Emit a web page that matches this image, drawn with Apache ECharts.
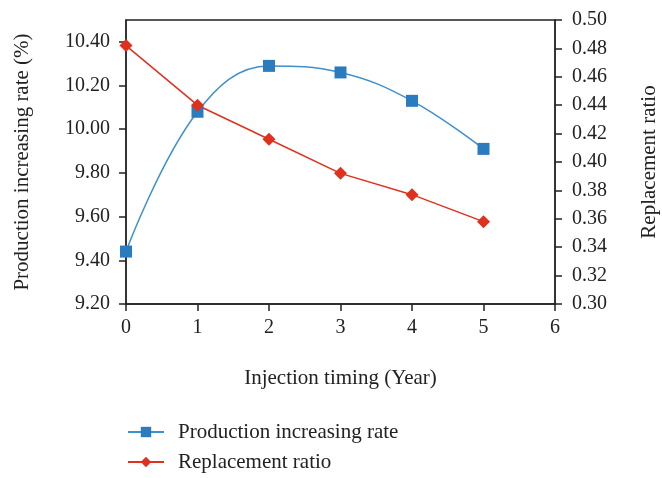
<!DOCTYPE html>
<html>
<head>
<meta charset="utf-8">
<script src="https://cdn.jsdelivr.net/npm/echarts@6/dist/echarts.min.js"></script>
<style>html,body{margin:0;padding:0;background:#fff}#c{width:662px;height:478px}</style>
</head>
<body>
<div id="c"></div>
<script>
const years = [0, 1, 2, 3, 4, 5];
const productionRate = [9.44, 10.08, 10.29, 10.26, 10.13, 9.91];
const replacementRatio = [0.482, 0.440, 0.416, 0.392, 0.377, 0.358];
const leftTicks = [9.2, 9.4, 9.6, 9.8, 10.0, 10.2, 10.4];
const rightTicks = [0.30, 0.32, 0.34, 0.36, 0.38, 0.40, 0.42, 0.44, 0.46, 0.48, 0.50];

const FONT = '"Liberation Serif", "DejaVu Serif", serif';
const tickTxt = { fontFamily: FONT, fontSize: 20, color: '#222' };
const nameTxt = { fontFamily: FONT, fontSize: 21, color: '#222' };
const axisLine = { show: true, lineStyle: { color: '#222', width: 1.5 } };
const tickStyle = { color: '#222', width: 1.5 };

const chart = echarts.init(document.getElementById('c'), null, { renderer: 'canvas' });
chart.setOption({
  animation: false,
  backgroundColor: '#fff',
  grid: { left: 126, right: 107, top: 20, bottom: 174, outerBoundsMode: 'none', containLabel: false,
          show: true, borderColor: '#222', borderWidth: 1.3, backgroundColor: 'transparent' },
  legend: {
    orient: 'vertical', left: 127, top: 420, height: 58, padding: 0, itemGap: 6, itemWidth: 36, itemHeight: 13,
    textStyle: { ...nameTxt, lineHeight: 24, padding: [0, 0, 0, 9] },
    data: ['Production increasing rate', 'Replacement ratio']
  },
  xAxis: {
    type: 'value', min: 0, max: 6, interval: 1,
    name: 'Injection timing (Year)', nameLocation: 'middle', nameGap: 64,
    nameTextStyle: nameTxt,
    axisLine, axisTick: { show: true, inside: false, length: 7, lineStyle: tickStyle },
    axisLabel: { ...tickTxt, margin: 14 },
    splitLine: { show: false }
  },
  yAxis: [
    {
      type: 'value', min: 9.2, max: 10.5, position: 'left',
      name: 'Production increasing rate (%)', nameLocation: 'middle', nameGap: 93, nameRotate: 90,
      nameTextStyle: nameTxt,
      axisLine, axisTick: { show: true, length: 7, customValues: leftTicks, lineStyle: tickStyle },
      axisLabel: { ...tickTxt, margin: 16, customValues: leftTicks, formatter: v => v.toFixed(2) },
      splitLine: { show: false }
    },
    {
      type: 'value', min: 0.3, max: 0.5, position: 'right',
      name: 'Replacement ratio', nameLocation: 'middle', nameGap: 84, nameRotate: 90,
      nameTextStyle: nameTxt,
      axisLine, axisTick: { show: true, length: 7, customValues: rightTicks, lineStyle: tickStyle },
      axisLabel: { ...tickTxt, margin: 17, customValues: rightTicks, formatter: v => v.toFixed(2) },
      splitLine: { show: false }
    }
  ],
  series: [
    {
      name: 'Production increasing rate', type: 'line', yAxisIndex: 0, smooth: 0.4,
      data: years.map((x, i) => [x, productionRate[i]]),
      symbol: 'rect', symbolSize: 12,
      itemStyle: { color: '#2b7bbf' },
      lineStyle: { color: '#3f8fcc', width: 1.5 }
    },
    {
      name: 'Replacement ratio', type: 'line', yAxisIndex: 1, smooth: false,
      data: years.map((x, i) => [x, replacementRatio[i]]),
      symbol: 'diamond', symbolSize: 13,
      itemStyle: { color: '#e0301e' },
      lineStyle: { color: '#e0301e', width: 1.5 }
    }
  ]
});
</script>
</body>
</html>
